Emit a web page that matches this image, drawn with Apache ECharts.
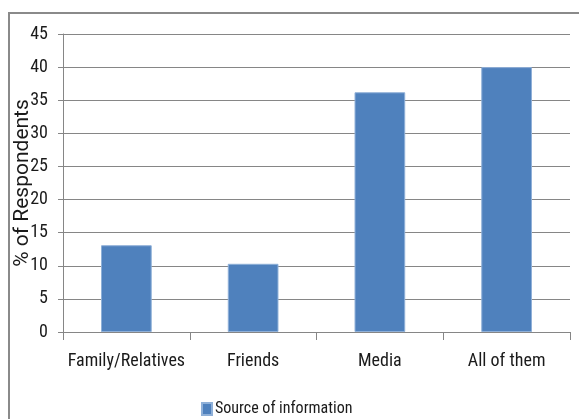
<!DOCTYPE html>
<html>
<head>
<meta charset="utf-8">
<script src="https://cdn.jsdelivr.net/npm/echarts@6/dist/echarts.min.js"></script>
<style>
  html, body { margin: 0; padding: 0; background: #fff; }
  #chart { width: 579px; height: 419px; }
</style>
</head>
<body>
<div id="chart"></div>
<script>
// Source of information, share of respondents (%)
const categories = ['Family/Relatives', 'Friends', 'Media', 'All of them'];
const respondentShare = [13.1, 10.3, 36.2, 40.0];
const seriesName = 'Source of information';
const yAxisTitle = '% of Respondents';
const yMin = 0, yMax = 45, yStep = 5;

const FONT = '"Roboto Condensed", Roboto, sans-serif';
const TITLE_FONT = 'Roboto, sans-serif';
const AXIS_GRAY = '#868686';
const TEXT = '#1a1a1a';

const chart = echarts.init(document.getElementById('chart'), null, { renderer: 'canvas' });

chart.setOption({
  animation: false,
  textStyle: { fontFamily: FONT },
  graphic: [{
    type: 'rect',
    shape: { x: 9, y: 13, width: 620, height: 460 },
    style: { fill: 'none', stroke: '#8a8a8a', lineWidth: 2 },
    silent: true,
    z: 100
  }],
  grid: { left: 63, top: 34, right: 9, bottom: 87, outerBoundsMode: 'none', containLabel: false },
  legend: {
    data: [seriesName],
    left: 201,
    top: 401,
    padding: 0,
    icon: 'rect',
    itemWidth: 10,
    itemHeight: 12,
    itemGap: 4,
    textStyle: { fontFamily: FONT, fontSize: 16, color: TEXT, padding: [0, 0, 0, -2] }
  },
  xAxis: {
    type: 'category',
    data: categories,
    axisLine: { lineStyle: { color: AXIS_GRAY, width: 1 } },
    axisTick: { show: true, alignWithLabel: false, length: 8, lineStyle: { color: AXIS_GRAY } },
    axisLabel: { fontFamily: FONT, fontSize: 18, color: TEXT, margin: 20, interval: 0 }
  },
  yAxis: {
    type: 'value',
    min: yMin,
    max: yMax,
    interval: yStep,
    name: yAxisTitle,
    nameLocation: 'middle',
    nameGap: 30,
    nameMoveOverlap: false,
    nameTextStyle: { fontFamily: TITLE_FONT, fontSize: 21, color: TEXT },
    axisLine: { show: true, lineStyle: { color: AXIS_GRAY, width: 1 } },
    axisTick: { show: true, length: 5, lineStyle: { color: AXIS_GRAY } },
    axisLabel: { fontFamily: FONT, fontSize: 18, color: TEXT, margin: 15 },
    splitLine: { show: true, lineStyle: { color: AXIS_GRAY, width: 1 } }
  },
  series: [{
    name: seriesName,
    type: 'bar',
    data: respondentShare,
    barWidth: '40%',
    itemStyle: { color: '#4F81BD', borderColor: '#8fb0d8', borderWidth: 1 }
  }]
});
</script>
</body>
</html>
